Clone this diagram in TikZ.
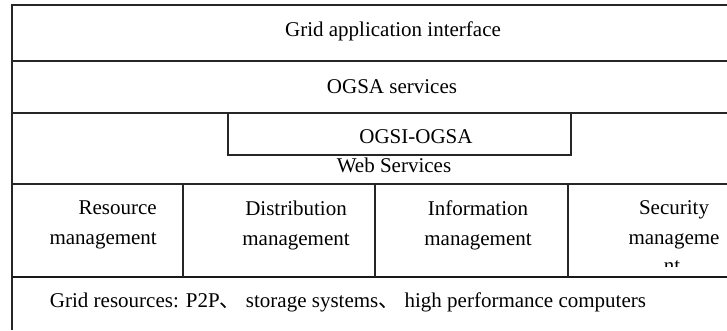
\documentclass[tikz,border=0pt]{standalone}
\usepackage{fontspec}
\setmainfont{Liberation Serif}
\newfontfamily\cjkfont{Noto Sans CJK SC}
\tikzset{
  rule/.style={draw=black!85, line width=1.6pt},
  heavyrule/.style={draw=black!90, line width=2.8pt},
  cell/.style={font=\fontsize{21}{30}\selectfont, align=center, inner sep=0pt}
}
\begin{document}
\begin{tikzpicture}[x=1pt, y=-1pt]
\useasboundingbox (0,0) rectangle (727,330);
% table rules
\draw[rule] (727,5) -- (12,5) -- (12,330);
\draw[rule] (12,61) -- (727,61);
\draw[rule] (12,113) -- (727,113);
\draw[rule] (12,184) -- (727,184);
\draw[heavyrule] (12,277) -- (727,277);
\draw[rule] (228,113) rectangle (571,155);
\foreach \cx in {183,375,568}
  \draw[rule] (\cx,184) -- (\cx,277);
% rows 1-3
\node[cell] (api) at (393,31) {Grid application interface};
\node[cell] (ogsa) at (392,87) {OGSA services};
\node[cell] (ogsi) at (416,137) {OGSI-OGSA};
\node[cell] (websvc) at (394,165) {Web Services};
% row 4
\node[cell, align=right, anchor=east] (resmgmt) at (157,225) {Resource\\management};
\node[cell] (distmgmt) at (296,225) {Distribution\\management};
\node[cell] (infomgmt) at (478,225) {Information\\management};
\node[cell] (secmgmt) at (674,225) {Security\\manageme};
\begin{scope}
  \clip (568,184) rectangle (727,266);
  \node[cell, anchor=base] (secnt) at (672,272) {nt};
\end{scope}
% row 5
\node[cell] (gridres) at (348,302) {Grid resources: P2P{\cjkfont 、} storage systems{\cjkfont 、} high performance computers};
\end{tikzpicture}
\end{document}
